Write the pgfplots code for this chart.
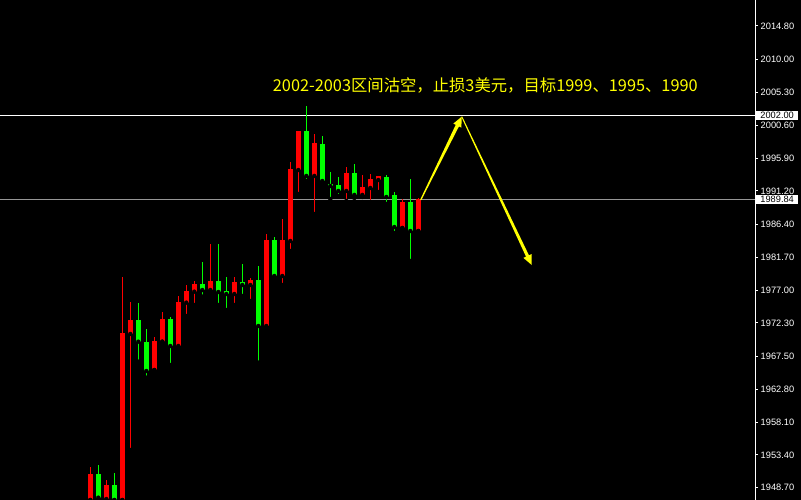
\documentclass[border=0pt]{standalone}
\usepackage{fontspec}
\setmainfont{Liberation Sans}
\newfontfamily\cjk{Noto Sans CJK SC}
\usepackage{pgfplots}
\usepackage{pgfplotstable}
\pgfplotsset{compat=1.18}
\usetikzlibrary{calc}
\definecolor{cred}{RGB}{255,0,0}
\definecolor{cgreen}{RGB}{0,255,0}
\definecolor{cyel}{RGB}{255,255,0}
\definecolor{cgray}{RGB}{150,150,150}

\pgfplotstableread{
x hi lo bt bb
0 1951.71 1946.94 1950.66 1946.94
2 1949.80 1946.94 1949.09 1947.08
4 1978.91 1946.94 1970.89 1946.94
5 1975.33 1954.10 1972.71 1970.71
8 1970.32 1965.55 1969.70 1965.55
9 1973.90 1969.60 1972.85 1969.60
11 1976.15 1968.80 1975.33 1968.99
12 1977.72 1973.28 1976.86 1975.19
13 1978.29 1974.86 1977.86 1976.76
15 1983.59 1976.62 1978.29 1977.00
18 1978.87 1974.86 1978.15 1976.43
20 1978.72 1975.43 1978.44 1977.72
22 1985.02 1971.28 1984.16 1971.85
24 1987.17 1977.72 1984.16 1979.01
25 1995.33 1982.59 1994.33 1984.02
26 1999.77 1990.75 1999.77 1994.18
28 1999.34 1987.88 1998.05 1993.33
32 1994.61 1989.75 1993.75 1991.18
34 1993.47 1990.32 1991.75 1990.61
35 1993.61 1989.60 1992.90 1991.61
36 1993.33 1991.03 1993.33 1992.75
39 1990.03 1985.88 1989.60 1985.88
41 1990.18 1985.45 1990.03 1985.45
}\redtab

\pgfplotstableread{
x hi lo bt bb
1 1951.95 1946.94 1950.66 1947.27
3 1950.85 1946.94 1949.09 1946.94
6 1975.19 1966.74 1972.71 1969.60
7 1971.42 1964.45 1969.60 1965.41
10 1973.18 1966.27 1972.85 1968.99
14 1981.01 1976.05 1977.86 1977.00
16 1983.59 1974.86 1978.29 1976.72
17 1978.87 1974.14 1976.86 1976.43
19 1980.73 1976.15 1978.15 1977.72
21 1980.44 1966.60 1978.44 1971.85
23 1984.64 1978.87 1984.16 1979.01
27 2003.35 1992.61 1999.77 1993.33
29 1999.05 1992.47 1997.91 1992.61
30 1993.90 1990.03 1992.18 1991.89
31 1993.18 1990.46 1992.04 1991.18
33 1995.04 1990.18 1993.75 1990.61
37 1993.47 1989.32 1993.18 1990.32
38 1991.03 1985.16 1990.61 1986.02
40 1992.90 1981.16 1989.60 1985.45
}\greentab

\begin{document}
\begin{tikzpicture}
\useasboundingbox (0,0) rectangle (801bp,500bp);
\fill[black] (0,0) rectangle (801bp,500bp);
\begin{axis}[
  at={(0,0)}, anchor=south west,
  scale only axis, width=755bp, height=500bp,
  xmin=-11.29, xmax=83.09, ymin=1946.94, ymax=2018.52,
  clip=false,
  hide x axis,
  axis y line*=right,
  y axis line style={white, line width=1bp, -},
  ytick={1948.7,1953.4,1958.1,1962.8,1967.5,1972.3,1977.0,1981.7,1986.4,1991.2,1995.9,2000.6,2005.3,2010.0,2014.8},
  major tick length=3bp, tick align=outside,
  y tick style={white, line width=1bp},
  yticklabel style={white, font=\fontsize{9.3}{10}\selectfont, anchor=west, inner sep=0pt, xshift=2.5bp},
  scaled y ticks=false,
  /pgf/number format/.cd, fixed, fixed zerofill, precision=2, 1000 sep={}, assume math mode=true,
]
% price lines
\draw[white, line width=1bp] (axis cs:-11.29,2002.0) -- (axis cs:83.09,2002.0);
\draw[cgray, line width=1bp] (axis cs:-11.29,1989.96) -- (axis cs:83.09,1989.96);

% wicks
\addplot[forget plot, only marks, mark=none, error bars/.cd, y dir=plus, y explicit, error mark=none,
  error bar style={cred, line width=1.2bp}]
  table[x=x, y=lo, y error plus expr=\thisrow{hi}-\thisrow{lo}] {\redtab};
\addplot[forget plot, only marks, mark=none, error bars/.cd, y dir=plus, y explicit, error mark=none,
  error bar style={cgreen, line width=1.2bp}]
  table[x=x, y=lo, y error plus expr=\thisrow{hi}-\thisrow{lo}] {\greentab};
% bodies
\addplot[forget plot, only marks, mark=none, error bars/.cd, y dir=plus, y explicit, error mark=none,
  error bar style={cred, line width=5bp}]
  table[x=x, y=bb, y error plus expr=\thisrow{bt}-\thisrow{bb}] {\redtab};
\addplot[forget plot, only marks, mark=none, error bars/.cd, y dir=plus, y explicit, error mark=none,
  error bar style={cgreen, line width=5bp}]
  table[x=x, y=bb, y error plus expr=\thisrow{bt}-\thisrow{bb}] {\greentab};

% price label boxes
\node[fill=white, text=black, anchor=west, inner xsep=4.2bp, inner ysep=1.6bp, font=\fontsize{9.3}{10}\selectfont]
  at (axis cs:83.09,2002.0) [xshift=1bp] {2002.00};
\node[fill=white, text=black, anchor=west, inner xsep=4.2bp, inner ysep=1.6bp, font=\fontsize{9.3}{10}\selectfont]
  at (axis cs:83.09,1989.96) [xshift=1bp] {1989.84};

% title
\node[anchor=base west, inner sep=0pt, text=cyel, font=\cjk\fontsize{16.4}{18}\selectfont]
  at (axis cs:22.8,2005.39) {2002-2003区间沽空，止损3美元，目标1999、1995、1990};

% arrows
\coordinate (A1) at (axis cs:41.30,1989.89);
\coordinate (B1) at (axis cs:46.43,2001.82);
\coordinate (B2) at (axis cs:55.18,1980.58);
\coordinate (C1) at ($(B1)!10bp!(A1)$);
\fill[cyel] ($(A1)!0.6bp!90:(B1)$) -- ($(C1)!1.8bp!-90:(A1)$) -- ($(C1)!4.5bp!-90:(A1)$) -- (B1)
  -- ($(C1)!4.5bp!90:(A1)$) -- ($(C1)!1.8bp!90:(A1)$) -- ($(A1)!0.6bp!-90:(B1)$) -- cycle;
\coordinate (C2) at ($(B2)!10bp!(B1)$);
\fill[cyel] ($(B1)!0.5bp!90:(B2)$) -- ($(C2)!1.6bp!-90:(B1)$) -- ($(C2)!4.5bp!-90:(B1)$) -- (B2)
  -- ($(C2)!4.5bp!90:(B1)$) -- ($(C2)!1.6bp!90:(B1)$) -- ($(B1)!0.5bp!-90:(B2)$) -- cycle;
\end{axis}
\end{tikzpicture}
\end{document}
